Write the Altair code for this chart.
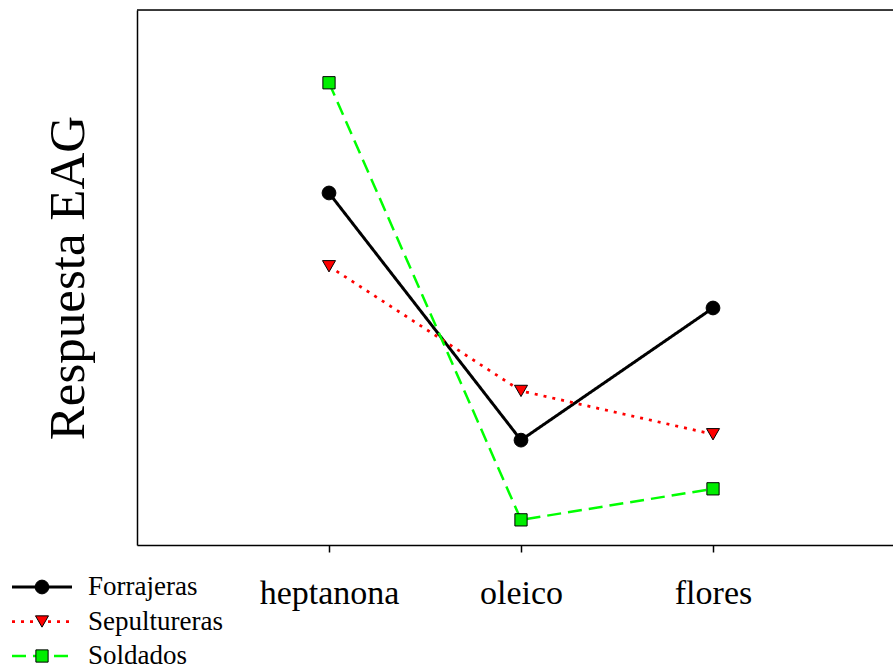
import altair as alt
import pandas as pd

categories = ["heptanona", "oleico", "flores"]
series = ["Forrajeras", "Sepultureras", "Soldados"]
forrajeras = [6.58, 1.96, 4.43]
sepultureras = [5.21, 2.88, 2.07]
soldados = [8.64, 0.47, 1.05]

line_colors = ["black", "red", "#00ff00"]
fill_colors = ["black", "red", "#00ee00"]
shapes = ["circle", "triangle-down", "square"]
dashes = [[1, 0], [3, 6], [14, 7]]
widths = [3, 2.5, 3]
sizes = [190, 150, 140]

rows = []
for s, vals in zip(series, [forrajeras, sepultureras, soldados]):
    for i, (c, v) in enumerate(zip(categories, vals)):
        rows.append({"series": s, "cat": c, "idx": i, "value": v})
df = pd.DataFrame(rows)
leg = pd.DataFrame({"series": series})

W, H = 756, 535
font = "Liberation Serif"

xscale = alt.Scale(domain=[-1, 2.9375], nice=False, zero=False)
yscale = alt.Scale(domain=[0, 10], nice=False)
color_s = alt.Scale(domain=series, range=line_colors)
fill_s = alt.Scale(domain=series, range=fill_colors)
dash_s = alt.Scale(domain=series, range=dashes)
width_s = alt.Scale(domain=series, range=widths)
shape_s = alt.Scale(domain=series, range=shapes)
size_s = alt.Scale(domain=series, range=sizes)

label_expr = "['heptanona','oleico','flores'][datum.value]"

x_axis = alt.Axis(values=[0, 1, 2], labelExpr=label_expr, title=None,
                  grid=False, tickSize=7, tickWidth=1.5, tickColor="black",
                  domainColor="black", domainWidth=1.5,
                  labelFontSize=34, labelFont=font, labelColor="black",
                  labelPadding=24)
x_enc = alt.X("idx:Q", scale=xscale, axis=x_axis)

lines = alt.Chart(df).mark_line().encode(
    x=x_enc,
    y=alt.Y("value:Q", scale=yscale,
            axis=alt.Axis(title="Respuesta EAG", titleFontSize=51, titleFont=font,
                          titleFontWeight="normal", titleColor="black",
                          titlePadding=43, labels=False, ticks=False, grid=False,
                          domainColor="black", domainWidth=1.5)),
    color=alt.Color("series:N", scale=color_s, legend=None),
    strokeDash=alt.StrokeDash("series:N", scale=dash_s, legend=None),
    strokeWidth=alt.StrokeWidth("series:N", scale=width_s, legend=None),
    detail="series:N",
)

points = alt.Chart(df).mark_point(filled=True, stroke="black", strokeWidth=1, opacity=1).encode(
    x=x_enc,
    y=alt.Y("value:Q", scale=yscale, axis=None),
    fill=alt.Fill("series:N", scale=fill_s, legend=None),
    shape=alt.Shape("series:N", scale=shape_s, legend=None),
    size=alt.Size("series:N", scale=size_s, legend=None),
)

leg_y = alt.Y("series:N", scale=alt.Scale(type="point", domain=series, range=[577, 646], padding=0),
              axis=None)

leg_rule = alt.Chart(leg).mark_rule().encode(
    x=alt.value(-125), x2=alt.value(-65), y=leg_y,
    color=alt.Color("series:N", scale=color_s, legend=None),
    strokeDash=alt.StrokeDash("series:N", scale=dash_s, legend=None),
    strokeWidth=alt.StrokeWidth("series:N", scale=width_s, legend=None),
)

leg_pts = alt.Chart(leg).mark_point(filled=True, stroke="black", strokeWidth=1, opacity=1).encode(
    x=alt.value(-95), y=leg_y,
    fill=alt.Fill("series:N", scale=fill_s, legend=None),
    shape=alt.Shape("series:N", scale=shape_s, legend=None),
    size=alt.Size("series:N", scale=size_s, legend=None),
)

leg_txt = alt.Chart(leg).mark_text(align="left", baseline="middle", font=font,
                                   fontSize=27, color="black").encode(
    x=alt.value(-49), y=leg_y, text="series:N"
)

top_rule = alt.Chart(pd.DataFrame({"a": [0]})).mark_rule(color="black", strokeWidth=1.5).encode(
    x=alt.value(0), x2=alt.value(W), y=alt.value(0)
)

chart = alt.layer(lines, points, leg_rule, leg_pts, leg_txt, top_rule).resolve_scale(
    y="independent"
).properties(
    width=W, height=H,
    padding={"left": 137, "top": 10, "right": 0, "bottom": 124},
    autosize=alt.AutoSizeParams(type="none"),
).configure_view(stroke=None).configure(background="white")

chart.save("out.html", embed_options={"renderer": "svg", "actions": False})
